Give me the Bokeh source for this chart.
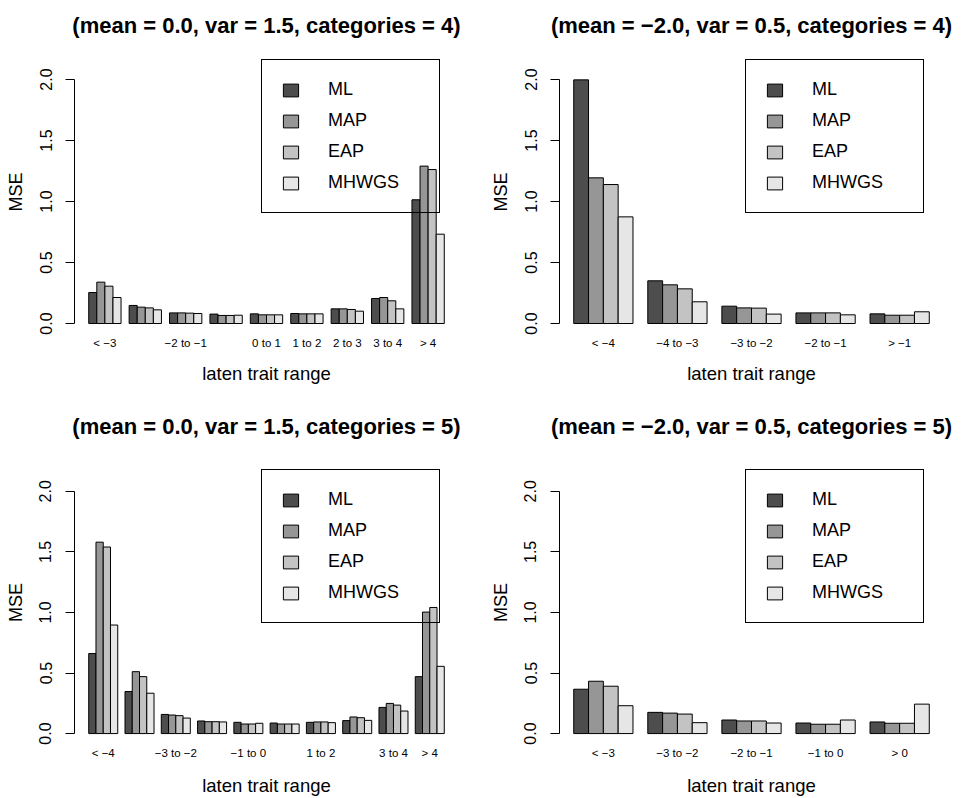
from bokeh.plotting import figure
from bokeh.models import Range1d, FixedTicker, Legend, LegendItem, PrintfTickFormatter, LinearAxis
from bokeh.layouts import column, row
from bokeh.embed import file_html
from bokeh.resources import INLINE

FONT = "Liberation Sans"
methods = ["ML", "MAP", "EAP", "MHWGS"]
colors = ["#4D4D4D", "#969696", "#C3C3C3", "#E6E6E6"]
y_ticks = [0.0, 0.5, 1.0, 1.5, 2.0]

# Panel 1: mean 0.0, var 1.5, categories 4
title_1 = "(mean = 0.0, var = 1.5, categories = 4)"
cats_1 = ["< \u22123", "\u22123 to \u22122", "\u22122 to \u22121", "\u22121 to 0", "0 to 1",
          "1 to 2", "2 to 3", "3 to 4", "> 4"]
shown_1 = [True, False, True, False, True, True, True, True, True]
ml_1 = [0.254, 0.148, 0.087, 0.077, 0.079, 0.082, 0.120, 0.205, 1.014]
map_1 = [0.339, 0.134, 0.087, 0.066, 0.071, 0.079, 0.120, 0.213, 1.290]
eap_1 = [0.306, 0.128, 0.085, 0.066, 0.071, 0.079, 0.115, 0.186, 1.262]
mhwgs_1 = [0.213, 0.112, 0.082, 0.068, 0.071, 0.079, 0.101, 0.120, 0.732]

# Panel 2: mean -2.0, var 0.5, categories 4
title_2 = "(mean = \u22122.0, var = 0.5, categories = 4)"
cats_2 = ["< \u22124", "\u22124 to \u22123", "\u22123 to \u22122", "\u22122 to \u22121", "> \u22121"]
shown_2 = [True, True, True, True, True]
ml_2 = [1.997, 0.350, 0.142, 0.087, 0.079]
map_2 = [1.194, 0.317, 0.128, 0.087, 0.068]
eap_2 = [1.139, 0.284, 0.126, 0.087, 0.068]
mhwgs_2 = [0.874, 0.178, 0.077, 0.071, 0.096]

# Panel 3: mean 0.0, var 1.5, categories 5
title_3 = "(mean = 0.0, var = 1.5, categories = 5)"
cats_3 = ["< \u22124", "\u22124 to \u22123", "\u22123 to \u22122", "\u22122 to \u22121", "\u22121 to 0",
          "0 to 1", "1 to 2", "2 to 3", "3 to 4", "> 4"]
shown_3 = [True, False, True, False, True, False, True, False, True, True]
ml_3 = [0.661, 0.347, 0.158, 0.104, 0.093, 0.087, 0.093, 0.107, 0.216, 0.470]
map_3 = [1.580, 0.511, 0.153, 0.098, 0.079, 0.079, 0.096, 0.137, 0.249, 1.003]
eap_3 = [1.540, 0.470, 0.148, 0.098, 0.079, 0.079, 0.096, 0.131, 0.235, 1.041]
mhwgs_3 = [0.896, 0.333, 0.128, 0.096, 0.085, 0.079, 0.090, 0.109, 0.186, 0.555]

# Panel 4: mean -2.0, var 0.5, categories 5
title_4 = "(mean = \u22122.0, var = 0.5, categories = 5)"
cats_4 = ["< \u22123", "\u22123 to \u22122", "\u22122 to \u22121", "\u22121 to 0", "> 0"]
shown_4 = [True, True, True, True, True]
ml_4 = [0.366, 0.175, 0.112, 0.087, 0.096]
map_4 = [0.432, 0.169, 0.104, 0.077, 0.085]
eap_4 = [0.391, 0.161, 0.104, 0.077, 0.085]
mhwgs_4 = [0.230, 0.090, 0.087, 0.112, 0.243]

x_label = "laten trait range"
y_label = "MSE"

PX_PER_UNIT = 122.0  # vertical scale of every panel


def make_panel(title, cats, shown, series, width, height, b_left, b_right, b_top, b_bottom,
               zero_px, title_standoff, xlabel_standoff, legend_loc):
    """zero_px: distance (px) from frame bottom to y=0."""
    n = len(cats)
    k = len(series)
    step = k + 1  # one bar-width gap before each group (R barplot beside=TRUE)
    lo, hi = 1.0, float(step * n)
    pad = 0.04 * (hi - lo)
    frame_h = height - b_top - b_bottom
    y0 = -zero_px / PX_PER_UNIT
    y1 = y0 + frame_h / PX_PER_UNIT
    p = figure(width=width, height=height, title=None,
               x_range=Range1d(lo - pad, hi + pad), y_range=Range1d(y0, y1),
               output_backend="svg", toolbar_location=None,
               min_border_left=b_left, min_border_right=b_right,
               min_border_top=b_top, min_border_bottom=b_bottom)
    p.outline_line_color = None
    p.grid.visible = False
    p.background_fill_color = "white"
    p.border_fill_color = "white"

    items = []
    for j, (name, vals) in enumerate(series):
        xs = [step * i + 1.5 + j for i in range(n)]
        r = p.vbar(x=xs, top=vals, bottom=0, width=1.0,
                   fill_color=colors[j], line_color="black", line_width=1)
        items.append(LegendItem(label=name, renderers=[r]))

    # y axis
    ya = p.left[0]
    ya.ticker = FixedTicker(ticks=y_ticks)
    ya.bounds = (0, 2)
    ya.formatter = PrintfTickFormatter(format="%.1f")
    ya.major_label_orientation = "vertical"
    ya.major_tick_out = 9
    ya.major_tick_in = 0
    ya.minor_tick_line_color = None
    ya.axis_line_color = "black"
    ya.major_tick_line_color = "black"
    ya.major_label_text_font = FONT
    ya.major_label_text_font_size = "16px"
    ya.major_label_text_color = "black"
    ya.major_label_standoff = 14
    ya.axis_label = y_label
    ya.axis_label_text_font = FONT
    ya.axis_label_text_font_style = "normal"
    ya.axis_label_text_font_size = "18px"
    ya.axis_label_text_color = "black"
    ya.axis_label_standoff = 11

    # x axis (labels only, like R barplot names.arg)
    xa = p.below[0]
    centers = [step * i + 1 + k / 2.0 for i in range(n)]
    xa.ticker = FixedTicker(ticks=centers)
    xa.major_label_overrides = {int(c): (lab if s else "") for c, lab, s in zip(centers, cats, shown)}
    xa.axis_line_color = None
    xa.major_tick_line_color = None
    xa.minor_tick_line_color = None
    xa.major_tick_out = 0
    xa.major_tick_in = 0
    xa.major_label_standoff = 3
    xa.major_label_text_font = FONT
    xa.major_label_text_font_size = "11.5px"
    xa.major_label_text_color = "black"
    xa.axis_label = x_label
    xa.axis_label_text_font = FONT
    xa.axis_label_text_font_style = "normal"
    xa.axis_label_text_font_size = "18.5px"
    xa.axis_label_text_color = "black"
    xa.axis_label_standoff = xlabel_standoff

    # main title, as the label of a bare axis above the plot (not clipped by the frame)
    ta = LinearAxis(ticker=FixedTicker(ticks=[]), axis_label=title,
                    axis_line_color=None, major_tick_line_color=None, minor_tick_line_color=None,
                    major_tick_out=0, major_tick_in=0, major_label_standoff=0,
                    axis_label_standoff=title_standoff,
                    axis_label_text_font=FONT, axis_label_text_font_style="bold",
                    axis_label_text_font_size="22px", axis_label_text_color="black")
    p.add_layout(ta, "above")

    legend = Legend(items=items, location=legend_loc, orientation="vertical",
                    glyph_width=19, glyph_height=16, label_height=16, label_width=92,
                    label_standoff=28, padding=19, spacing=10, margin=0,
                    border_line_color="black", border_line_width=1, border_line_alpha=1.0,
                    background_fill_alpha=0.0,
                    label_text_font=FONT, label_text_font_size="18px",
                    label_text_color="black")
    legend.level = "underlay"
    p.add_layout(legend)
    return p


def series_of(a, b, c, d):
    return list(zip(methods, [a, b, c, d]))


H_TOP, H_BOT = 400, 398
p1 = make_panel(title_1, cats_1, shown_1, series_of(ml_1, map_1, eap_1, mhwgs_1),
                480, H_TOP, 74, 22, 50, 67, 10, 13, 11, (187, 120))
p2 = make_panel(title_2, cats_2, shown_2, series_of(ml_2, map_2, eap_2, mhwgs_2),
                481, H_TOP, 79, 18, 50, 67, 10, 13, 11, (186, 120))
p3 = make_panel(title_3, cats_3, shown_3, series_of(ml_3, map_3, eap_3, mhwgs_3),
                480, H_BOT, 74, 22, 61, 53, 10, 23, 13, (187, 120))
p4 = make_panel(title_4, cats_4, shown_4, series_of(ml_4, map_4, eap_4, mhwgs_4),
                481, H_BOT, 79, 18, 61, 53, 10, 23, 13, (186, 120))

layout = column(row(p1, p2), row(p3, p4))
open("out.html", "w").write(file_html(layout, INLINE))
